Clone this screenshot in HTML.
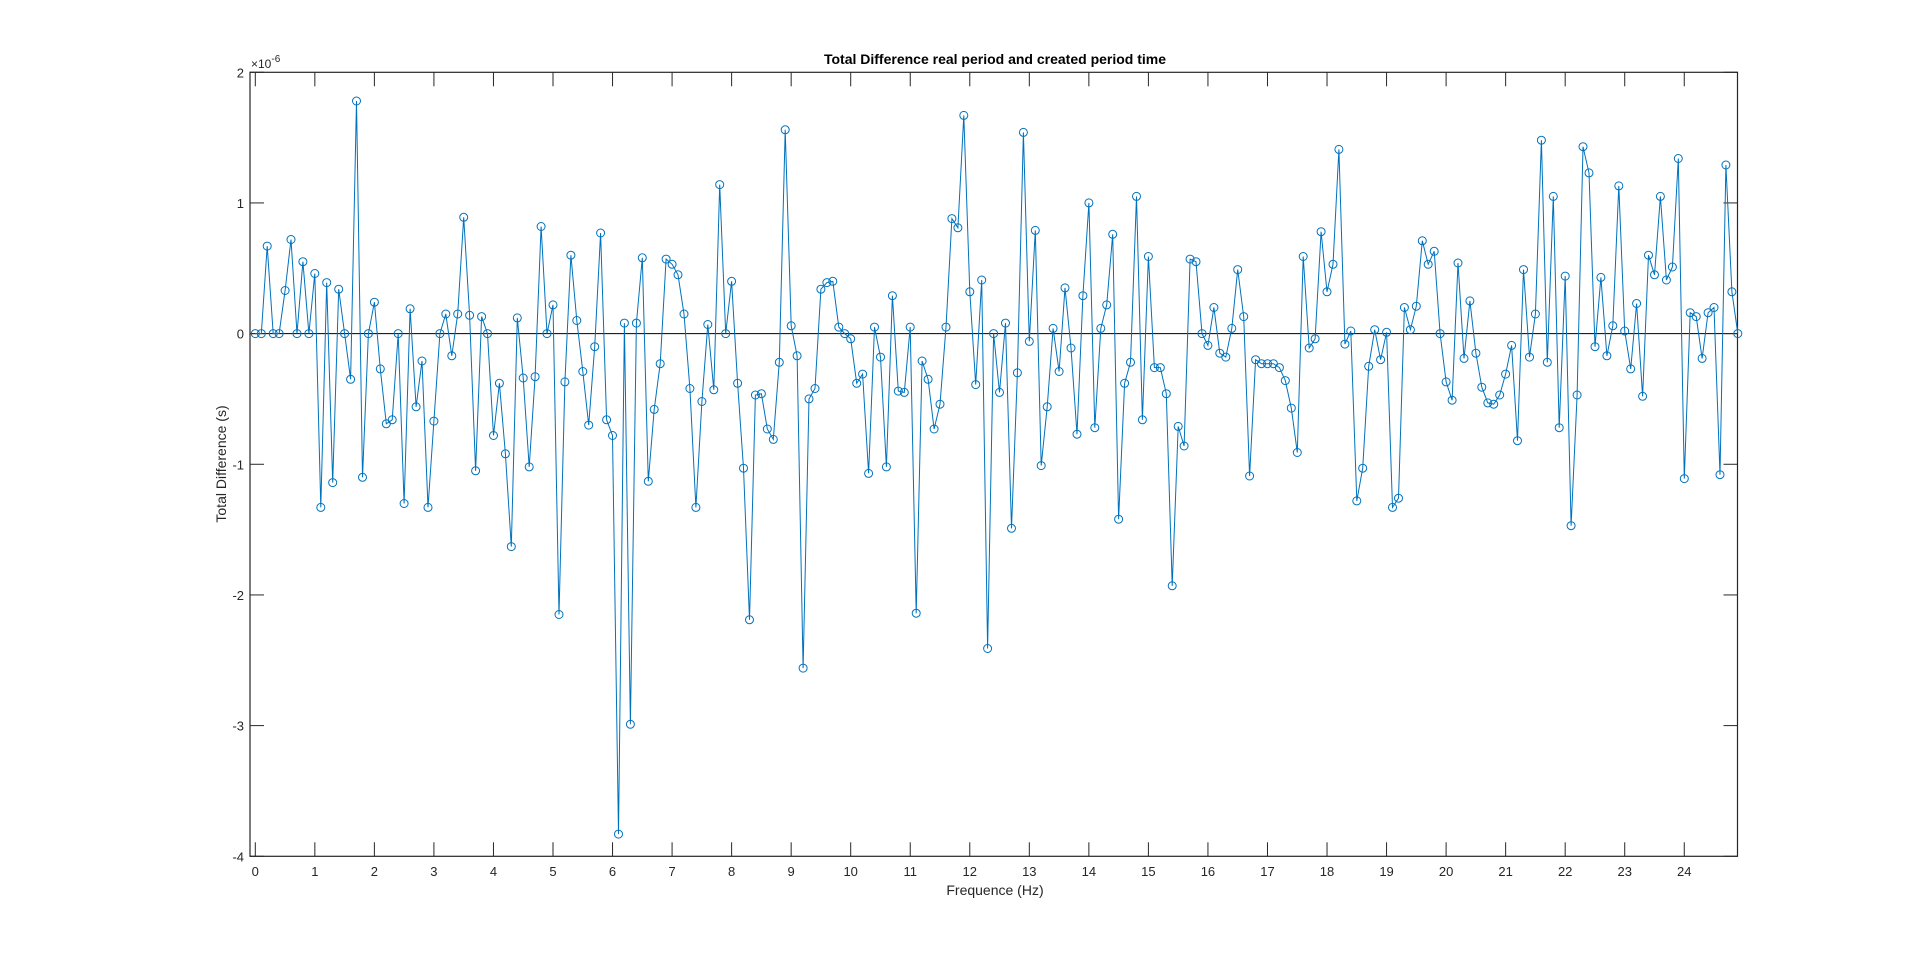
<!DOCTYPE html>
<html><head><meta charset="utf-8"><style>
html,body{margin:0;padding:0;background:#fff;}
svg{display:block;font-family:"Liberation Sans",Arial,sans-serif;}
</style></head><body>
<svg id="s" width="1920" height="963" viewBox="0 0 1920 963" xmlns="http://www.w3.org/2000/svg">
<rect width="1920" height="963" fill="#fff"/>
<text x="995" y="64" font-size="14" font-weight="bold" text-anchor="middle" fill="#000">Total Difference real period and created period time</text>
<text x="995" y="895" font-size="14" text-anchor="middle" fill="#262626">Frequence (Hz)</text>
<text transform="translate(226,464) rotate(-90)" font-size="14" text-anchor="middle" fill="#262626">Total Difference (s)</text>
<text x="251" y="68" font-size="12" fill="#262626">×10<tspan dy="-6" font-size="10">-6</tspan></text>
<g id="g"></g>
</svg>
<script>
var v=[0,0,0.67,0,0,0.33,0.72,0,0.55,0,0.46,-1.33,0.39,-1.14,0.34,0,-0.35,1.78,-1.10,0,0.24,-0.27,-0.69,-0.66,0,-1.30,0.19,-0.56,-0.21,-1.33,-0.67,0,0.15,-0.17,0.15,0.89,0.14,-1.05,0.13,0,-0.78,-0.38,-0.92,-1.63,0.12,-0.34,-1.02,-0.33,0.82,0,0.22,-2.15,-0.37,0.60,0.10,-0.29,-0.70,-0.10,0.77,-0.66,-0.78,-3.83,0.08,-2.99,0.08,0.58,-1.13,-0.58,-0.23,0.57,0.53,0.45,0.15,-0.42,-1.33,-0.52,0.07,-0.43,1.14,0,0.40,-0.38,-1.03,-2.19,-0.47,-0.46,-0.73,-0.81,-0.22,1.56,0.06,-0.17,-2.56,-0.50,-0.42,0.34,0.39,0.40,0.05,0,-0.04,-0.38,-0.31,-1.07,0.05,-0.18,-1.02,0.29,-0.44,-0.45,0.05,-2.14,-0.21,-0.35,-0.73,-0.54,0.05,0.88,0.81,1.67,0.32,-0.39,0.41,-2.41,0,-0.45,0.08,-1.49,-0.30,1.54,-0.06,0.79,-1.01,-0.56,0.04,-0.29,0.35,-0.11,-0.77,0.29,1.00,-0.72,0.04,0.22,0.76,-1.42,-0.38,-0.22,1.05,-0.66,0.59,-0.26,-0.26,-0.46,-1.93,-0.71,-0.86,0.57,0.55,0,-0.09,0.20,-0.15,-0.18,0.04,0.49,0.13,-1.09,-0.20,-0.23,-0.23,-0.23,-0.26,-0.36,-0.57,-0.91,0.59,-0.11,-0.04,0.78,0.32,0.53,1.41,-0.08,0.02,-1.28,-1.03,-0.25,0.03,-0.20,0.01,-1.33,-1.26,0.20,0.03,0.21,0.71,0.53,0.63,0,-0.37,-0.51,0.54,-0.19,0.25,-0.15,-0.41,-0.53,-0.54,-0.47,-0.31,-0.09,-0.82,0.49,-0.18,0.15,1.48,-0.22,1.05,-0.72,0.44,-1.47,-0.47,1.43,1.23,-0.10,0.43,-0.17,0.06,1.13,0.02,-0.27,0.23,-0.48,0.60,0.45,1.05,0.41,0.51,1.34,-1.11,0.16,0.13,-0.19,0.16,0.20,-1.08,1.29,0.32,0];
var L=250,R=1737.5,T=72.3,B=856.3;
function X(x){return 255.3+59.54*x;}
function Y(y){return 333.6-130.67*y;}
var h='';
// zero line
h+='<line x1="'+L+'" y1="'+Y(0)+'" x2="'+R+'" y2="'+Y(0)+'" stroke="#000" stroke-width="1"/>';
// box
h+='<rect x="'+L+'" y="'+T+'" width="'+(R-L)+'" height="'+(B-T)+'" fill="none" stroke="#262626" stroke-width="1.2"/>';
for(var i=0;i<=24;i++){var x=X(i);
h+='<line x1="'+x+'" y1="'+B+'" x2="'+x+'" y2="'+(B-14)+'" stroke="#262626"/>';
h+='<line x1="'+x+'" y1="'+T+'" x2="'+x+'" y2="'+(T+14)+'" stroke="#262626"/>';
h+='<text x="'+x+'" y="876" font-size="13" text-anchor="middle" fill="#262626">'+i+'</text>';}
for(var j=-4;j<=2;j++){var y=Y(j);
h+='<line x1="'+L+'" y1="'+y+'" x2="'+(L+14)+'" y2="'+y+'" stroke="#262626"/>';
h+='<line x1="'+R+'" y1="'+y+'" x2="'+(R-14)+'" y2="'+y+'" stroke="#262626"/>';
h+='<text x="'+(L-6)+'" y="'+(y+5)+'" font-size="13" text-anchor="end" fill="#262626">'+j+'</text>';}
var p='';for(var k=0;k<v.length;k++){p+=(k?'L':'M')+X(k/10).toFixed(1)+' '+Y(v[k]).toFixed(1);}
h+='<path d="'+p+'" fill="none" stroke="#0072BD" stroke-width="1"/>';
for(var k=0;k<v.length;k++){h+='<circle cx="'+X(k/10).toFixed(1)+'" cy="'+Y(v[k]).toFixed(1)+'" r="4" fill="none" stroke="#0072BD" stroke-width="1"/>';}
document.getElementById('g').innerHTML=h;
</script>
</body></html>
